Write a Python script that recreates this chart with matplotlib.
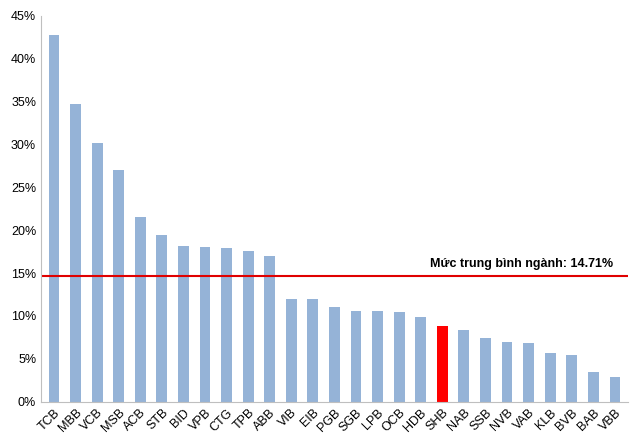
import matplotlib.pyplot as plt
import numpy as np

banks = ['TCB', 'MBB', 'VCB', 'MSB', 'ACB', 'STB', 'BID', 'VPB', 'CTG', 'TPB', 'ABB',
         'VIB', 'EIB', 'PGB', 'SGB', 'LPB', 'OCB', 'HDB', 'SHB', 'NAB', 'SSB', 'NVB',
         'VAB', 'KLB', 'BVB', 'BAB', 'VBB']
values = [42.8, 34.7, 30.2, 27.0, 21.5, 19.5, 18.2, 18.1, 17.9, 17.6, 17.0,
          12.0, 12.0, 11.0, 10.6, 10.6, 10.5, 9.9, 8.8, 8.4, 7.4, 7.0,
          6.9, 5.7, 5.4, 3.5, 2.9]
average = 14.71
highlight = 'SHB'

fig = plt.figure(figsize=(6.31, 4.40), dpi=100)
ax = fig.add_axes([0.065, 0.087, 0.93, 0.877])
x = np.arange(len(banks))
colors = ['#ff0000' if b == highlight else '#95b3d7' for b in banks]
ax.bar(x, values, 0.5, color=colors)
ax.axhline(average, color='#e00000', lw=1.5)
ax.text(len(banks) - 1.1, average + 0.6, 'Mức trung bình ngành: 14.71%',
        ha='right', va='bottom', fontsize=9, fontweight='bold', family='Liberation Sans')

ax.set_xlim(-0.6, len(banks) - 0.4)
ax.set_ylim(0, 45)
ax.set_yticks(np.arange(0, 46, 5))
ax.set_yticklabels([f'{v}%' for v in range(0, 46, 5)], family='Liberation Sans', fontsize=9)
ax.set_xticks(x)
ax.set_xticklabels(banks, rotation=45, ha='right', rotation_mode='anchor',
                   family='Liberation Sans', fontsize=9)
ax.tick_params(length=0)
for s in ['top', 'right']:
    ax.spines[s].set_visible(False)
ax.spines['left'].set_color('#bfbfbf')
ax.spines['bottom'].set_color('#bfbfbf')

plt.savefig('out.png')
